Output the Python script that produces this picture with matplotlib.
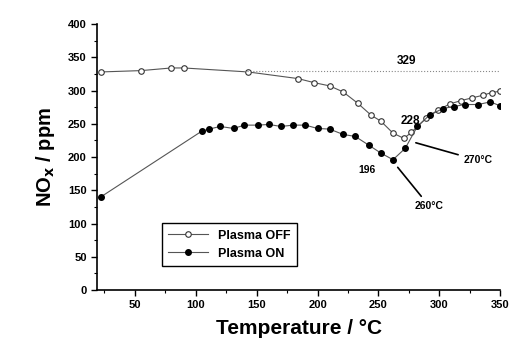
import matplotlib
matplotlib.use("Agg")
from matplotlib import pyplot as plt
from matplotlib.ticker import MultipleLocator

# values
off_t = [22, 55, 80, 90, 143, 184, 197, 210, 221, 233, 244, 252, 262, 271, 277,
         289, 299, 309, 318, 327, 336, 343, 350]
off_nox = [328, 330, 334, 334, 328, 318, 312, 307, 298, 281, 263, 254, 236, 228, 237,
           258, 271, 280, 285, 289, 293, 297, 299]

on_t = [22, 105, 111, 120, 131, 140, 151, 160, 170, 180, 190, 200, 210, 221, 231,
        242, 252, 262, 272, 282, 292, 303, 312, 321, 332, 342, 350]
on_nox = [140, 239, 242, 246, 243, 248, 248, 249, 246, 248, 248, 243, 242, 234, 231,
          218, 206, 196, 213, 246, 263, 273, 276, 279, 279, 283, 277]

ref_level = 329
min_off = (271, 228)
min_on = (262, 196)

plt.rcParams['font.family'] = ['Liberation Sans', 'DejaVu Sans']
plt.rcParams['font.weight'] = 'bold'

fig = plt.figure(figsize=(5.14, 3.44), dpi=100)
ax = fig.add_axes([0.189, 0.157, 0.784, 0.773])

ax.plot(off_t, off_nox, '-o', color='#555555', lw=0.8, ms=4,
        mfc='white', mec='#333333', mew=0.8, label='Plasma OFF')
ax.plot(on_t, on_nox, '-o', color='#555555', lw=0.8, ms=4,
        mfc='black', mec='black', label='Plasma ON')

# dotted reference line at the plasma-off level
ax.plot([140, 350], [ref_level, ref_level], ':', color='#888888', lw=0.8)
ax.text(273, ref_level + 6, str(ref_level), fontsize=8.5, ha='center', va='bottom')

ax.text(min_off[0] + 5, min_off[1] + 22, str(min_off[1]), fontsize=8.5, ha='center')
ax.annotate('270°C', xy=(min_off[0] + 1, min_off[1] - 2), xytext=(320, min_off[1] - 33),
            fontsize=7.5, ha='left', va='center',
            arrowprops=dict(arrowstyle='-', color='black', lw=1.2, shrinkB=8))
ax.text(min_on[0] - 21, min_on[1] - 8, str(min_on[1]), fontsize=7.5, ha='center', va='top')
ax.annotate('260°C', xy=(min_on[0] + 1, min_on[1] - 5), xytext=(280, min_on[1] - 70),
            fontsize=7.5, ha='left', va='center',
            arrowprops=dict(arrowstyle='-', color='black', lw=1.2, shrinkB=4))

ax.set_xlim(19, 350)
ax.set_ylim(0, 400)
ax.xaxis.set_major_locator(MultipleLocator(50))
ax.xaxis.set_minor_locator(MultipleLocator(25))
ax.yaxis.set_major_locator(MultipleLocator(50))
ax.yaxis.set_minor_locator(MultipleLocator(25))
ax.spines['top'].set_visible(False)
ax.spines['right'].set_visible(False)
ax.spines['left'].set_linewidth(1.2)
ax.spines['bottom'].set_linewidth(1.2)
ax.tick_params(which='major', direction='out', length=4, width=1, labelsize=8)
ax.tick_params(which='minor', direction='out', length=2, width=0.8)
ax.set_xticks([50, 100, 150, 200, 250, 300, 350])

ax.set_xlabel('Temperature / °C', fontsize=15, fontweight='bold', labelpad=6)
ax.set_ylabel('NO$_\\mathbf{x}$ / ppm', fontsize=14.5, fontweight='bold', labelpad=8)

ax.legend(loc='lower left', bbox_to_anchor=(0.16, 0.09), fontsize=9,
          frameon=True, fancybox=False, edgecolor='black', handlelength=3.2,
          borderpad=0.5, labelspacing=0.5, borderaxespad=0, framealpha=1)

fig.savefig('out.png', dpi=100)
